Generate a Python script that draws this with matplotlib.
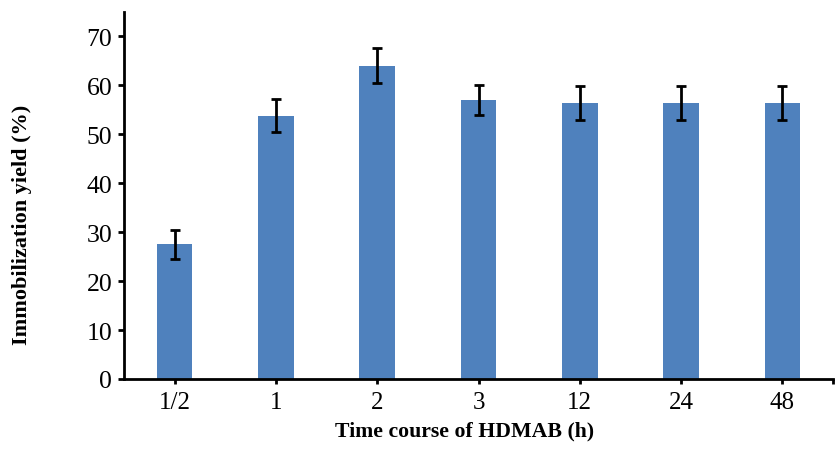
import matplotlib
matplotlib.use("Agg")
import matplotlib.pyplot as plt
import numpy as np

# Immobilization yield over HDMAB treatment time
categories = ["1/2", "1", "2", "3", "12", "24", "48"]
yield_pct = [27.5, 53.8, 64.0, 57.0, 56.4, 56.4, 56.4]
yield_err = [3.0, 3.4, 3.6, 3.1, 3.5, 3.5, 3.5]
y_ticks = [0, 10, 20, 30, 40, 50, 60, 70]

plt.rcParams["font.family"] = ["Liberation Serif", "DejaVu Serif"]

fig = plt.figure(figsize=(8.35, 4.52), dpi=100)
ax = fig.add_axes([124 / 835, (452 - 380) / 452, (833 - 124) / 835, (380 - 13) / 452])

x = np.arange(len(categories))
ax.bar(x, yield_pct, width=0.35, color="#4F81BD", zorder=2)
ax.errorbar(x, yield_pct, yerr=yield_err, fmt="none", ecolor="black",
            elinewidth=2, capsize=3.5, capthick=2, zorder=3)

ax.set_xlim(-0.5, len(categories) - 0.5)
ax.set_ylim(0, 75)
ax.set_yticks(y_ticks)
ax.set_xticks(x)
ax.set_xticklabels(categories)
ax.set_xticks([len(categories) - 0.5], minor=True)

for side in ("top", "right"):
    ax.spines[side].set_visible(False)
for side in ("left", "bottom"):
    ax.spines[side].set_linewidth(2)

ax.tick_params(axis="y", which="major", direction="out", length=4.5, width=2,
               labelsize=18.5, pad=4)
ax.tick_params(axis="x", which="both", direction="out", length=3.6, width=2,
               labelsize=18, pad=5)

ax.set_xlabel("Time course of HDMAB (h)", fontsize=15.7, fontweight="bold")
ax.set_ylabel("Immobilization yield (%)", fontsize=16, fontweight="bold")
ax.xaxis.set_label_coords(0.481, -0.114)
ax.yaxis.set_label_coords(-0.130, 0.422)

fig.savefig("out.png", dpi=100)
